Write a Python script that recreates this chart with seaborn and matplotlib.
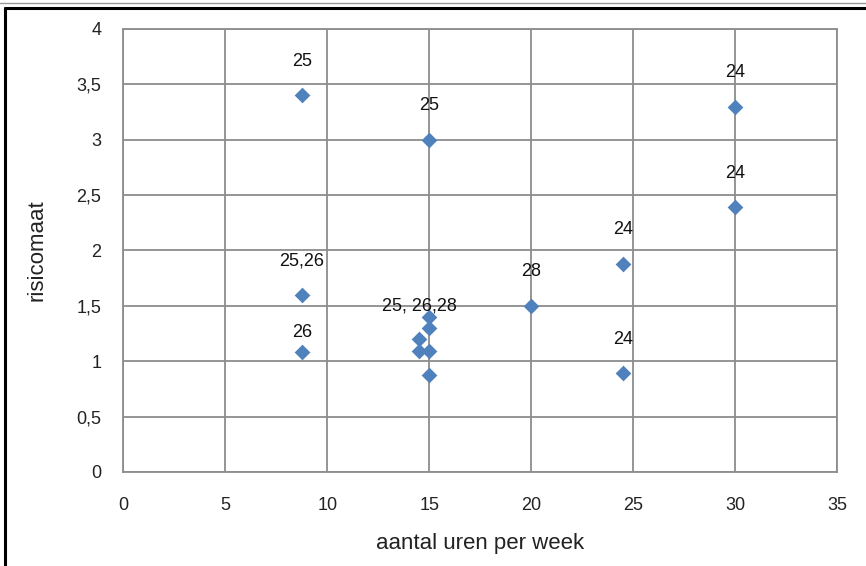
import matplotlib
matplotlib.use("Agg")
import matplotlib.pyplot as plt
from matplotlib.lines import Line2D
import seaborn as sns
import pandas as pd

# Data
hours = [8.75, 15.0, 30.0, 30.0, 24.5, 24.5, 20.0, 8.75, 8.75, 15.0, 15.0, 14.5, 14.5, 15.0, 15.0]
risk = [3.40, 3.00, 3.30, 2.39, 1.88, 0.89, 1.50, 1.60, 1.08, 1.40, 1.30, 1.20, 1.09, 1.09, 0.88]
labels = ["25", "25", "24", "24", "24", "24", "28", "25,26", "26", "25, 26,28", "", "", "", "", ""]
x_ticks = [0, 5, 10, 15, 20, 25, 30, 35]
y_ticks = [0, 0.5, 1, 1.5, 2, 2.5, 3, 3.5, 4]
y_tick_labels = ["0", "0,5", "1", "1,5", "2", "2,5", "3", "3,5", "4"]

df = pd.DataFrame({"uren": hours, "risico": risk, "label": labels})

sns.set_theme(style="white")
plt.rcParams["font.family"] = ["Liberation Sans", "DejaVu Sans"]

fig = plt.figure(figsize=(8.66, 5.66), dpi=100)
ax = fig.add_axes([0.1425, 0.1661, 0.8245, 0.7827])

sns.scatterplot(data=df, x="uren", y="risico", ax=ax, marker="D", s=64,
                color="#4F81BD", linewidth=0, zorder=3)

ax.set_xlim(0, 35)
ax.set_ylim(0, 4)
ax.set_xticks(x_ticks)
ax.set_xticklabels([str(t) for t in x_ticks])
ax.set_yticks(y_ticks)
ax.set_yticklabels(y_tick_labels)
ax.grid(True, color="#8C8C8C", linewidth=1.3)
ax.set_axisbelow(True)
for sp in ax.spines.values():
    sp.set_visible(True)
    sp.set_color("#8C8C8C")
    sp.set_linewidth(1.3)
ax.tick_params(axis="both", length=0, labelsize=13, colors="#222222")
ax.tick_params(axis="x", pad=18)
ax.tick_params(axis="y", pad=16)

ax.set_xlabel("aantal uren per week", fontsize=16, labelpad=14, color="#222222")
ax.set_ylabel("risicomaat", fontsize=16, labelpad=21, color="#222222")

# label offsets (points)
offsets = {"26": (0, 14), "25, 26,28": (-7, 8)}
for _, row in df.iterrows():
    if row["label"]:
        dx, dy = offsets.get(row["label"], (0, 24.5))
        ax.annotate(row["label"], (row["uren"], row["risico"]), xytext=(dx, dy),
                    textcoords="offset points", ha="center", va="center",
                    fontsize=13, color="#111111", zorder=4)

# figure border lines
fig.add_artist(Line2D([0, 1], [1 - 3 / 566, 1 - 3 / 566], color="#999999", linewidth=1.0))
fig.add_artist(Line2D([5 / 866, 1], [1 - 7.5 / 566, 1 - 7.5 / 566], color="black", linewidth=2.2))
fig.add_artist(Line2D([5 / 866, 5 / 866], [0, 1 - 7.5 / 566], color="black", linewidth=2.2))

fig.savefig("out.png", dpi=100)
